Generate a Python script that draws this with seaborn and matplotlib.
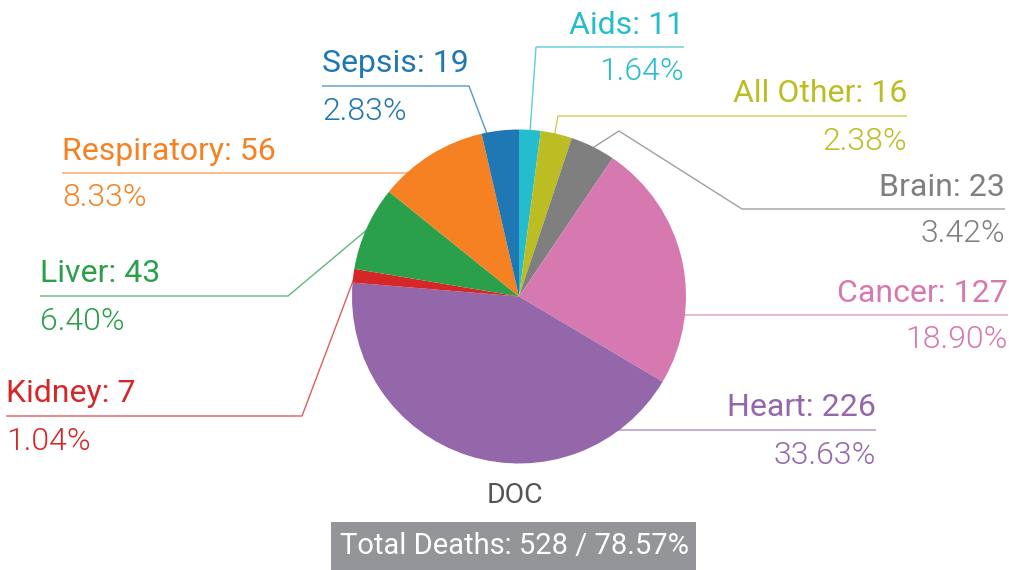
import numpy as np
import matplotlib.pyplot as plt
import seaborn as sns

# data, in drawing order (clockwise from 12 o'clock)
causes = ["Aids", "All Other", "Brain", "Cancer", "Heart", "Kidney", "Liver", "Respiratory", "Sepsis"]
deaths = [11, 16, 23, 127, 226, 7, 43, 56, 19]
base_total = 672  # percentages in the labels are relative to this
group_name = "DOC"

colors = ["#25bdce", "#bcbd22", "#7f7f7f", "#d779b1", "#9467ab",
          "#d62728", "#2ba04a", "#f68122", "#1f77b4"]

# label layout in pixels (y measured from the top): line y, text x, side, elbow, start radius
W, H = 1009, 570
layout = {
    "Aids":        dict(ly=47,  tx=684,  side="right", elbow=(536, 47),  rf=0.78),
    "All Other":   dict(ly=116, tx=907,  side="right", elbow=(558, 116), rf=0.78),
    "Brain":       dict(ly=209, tx=1005, side="right", elbow=[(619, 131), (742, 209)], rf=0.99),
    "Cancer":      dict(ly=315, tx=1008, side="right", elbow=(660, 315), rf=0.8),
    "Heart":       dict(ly=430, tx=876,  side="right", elbow=(600, 430), rf=0.8),
    "Kidney":      dict(ly=416, tx=6,    side="left",  elbow=(302, 416), rf=0.99),
    "Liver":       dict(ly=296, tx=40,   side="left",  elbow=(288, 296), rf=0.99),
    "Respiratory": dict(ly=173, tx=62,   side="left",  elbow=(420, 173), rf=0.8),
    "Sepsis":      dict(ly=86,  tx=322,  side="left",  elbow=(469, 86),  rf=0.67),
}
cx, cy, R = 519, 296.5, 167

sns.set_style("white")
plt.rcParams["font.family"] = ["Roboto", "DejaVu Sans"]

fig = plt.figure(figsize=(W / 100, H / 100), dpi=100)
ax = fig.add_axes([0, 0, 1, 1])

wedges, _ = ax.pie(deaths, colors=sns.color_palette(colors), startangle=90, counterclock=False,
                   center=(cx, H - cy), radius=R, wedgeprops=dict(linewidth=0, zorder=3))

for w, name, val, col in zip(wedges, causes, deaths, colors):
    lay = layout[name]
    mid = np.deg2rad((w.theta1 + w.theta2) / 2)
    sx = cx + lay["rf"] * R * np.cos(mid)
    sy = (H - cy) + lay["rf"] * R * np.sin(mid)
    elb = lay["elbow"] if isinstance(lay["elbow"], list) else [lay["elbow"]]
    xs = [sx] + [p[0] for p in elb] + [lay["tx"]]
    ys = [sy] + [H - p[1] for p in elb] + [H - lay["ly"]]
    ha = lay["side"]
    ax.plot(xs, ys, color=col, alpha=0.75, lw=1.0, zorder=1, solid_capstyle="butt")
    ax.text(lay["tx"], H - lay["ly"] + 13.5, f"{name}: {val}", color=col, fontsize=23,
            ha=ha, va="baseline", zorder=4)
    ax.text(lay["tx"], H - lay["ly"] - 33.5, f"{val / base_total * 100:.2f}%", color=col,
            fontsize=23, fontweight=300, ha=ha, va="baseline", zorder=4)

total = sum(deaths)
ax.text(515, H - 503, group_name, color="#555555", fontsize=20.5, ha="center", va="baseline")
ax.add_patch(plt.Rectangle((331, 0), 365, H - 522, color="#939598", lw=0, zorder=2))
ax.text(514.5, H - 554, f"Total Deaths: {total} / {total / base_total * 100:.2f}%", color="white",
        fontsize=21, ha="center", va="baseline", zorder=4)

ax.set_xlim(0, W)
ax.set_ylim(0, H)
ax.set_aspect("auto")
ax.axis("off")
fig.savefig("out.png", dpi=100)
